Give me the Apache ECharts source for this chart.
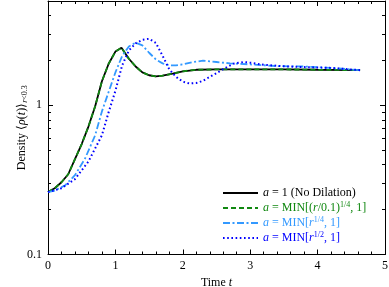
<!DOCTYPE html>
<html><head><meta charset="utf-8">
<script src="https://cdn.jsdelivr.net/npm/echarts@6/dist/echarts.min.js"></script>
<style>html,body{margin:0;padding:0;background:#fff}#c{width:389px;height:287px}</style>
</head><body><div id="c"></div>
<script>
// Time values and densities for each curve
const tNoDil = [0,0.1,0.2,0.3,0.4,0.5,0.6,0.7,0.8,0.9,1.0,1.09,1.2,1.3,1.4,1.5,1.6,1.7,1.85,2.0,2.2,2.5,3.0,3.5,4.0,4.63];
const densNoDil = [0.262,0.278,0.305,0.345,0.435,0.55,0.72,0.985,1.45,1.90,2.29,2.43,2.05,1.82,1.66,1.59,1.56,1.58,1.63,1.69,1.73,1.74,1.74,1.74,1.73,1.72];
const tMinR01 = tNoDil;
const densMinR01 = densNoDil;
const tMinR14 = [0,0.1,0.25,0.4,0.55,0.7,0.8,0.9,1.0,1.1,1.2,1.3,1.4,1.5,1.6,1.7,1.8,1.9,2.0,2.15,2.3,2.5,2.7,3.0,3.4,3.8,4.2,4.63];
const densMinR14 = [0.262,0.268,0.29,0.34,0.44,0.63,0.91,1.23,1.66,2.14,2.48,2.63,2.52,2.25,2.03,1.91,1.85,1.85,1.88,1.95,1.99,1.95,1.91,1.88,1.83,1.82,1.78,1.72];
const tMinR12 = [0,0.2,0.4,0.6,0.8,0.9,1.0,1.1,1.2,1.3,1.4,1.5,1.6,1.7,1.8,1.9,2.0,2.1,2.2,2.3,2.4,2.5,2.6,2.75,2.9,3.0,3.15,3.45,3.85,4.2,4.63];
const densMinR12 = [0.262,0.278,0.32,0.42,0.63,0.90,1.25,1.85,2.33,2.60,2.75,2.79,2.62,2.15,1.74,1.55,1.44,1.40,1.41,1.46,1.55,1.64,1.75,1.90,1.95,1.93,1.88,1.83,1.80,1.78,1.72];

const seriesNames = ['nodil','r01','r14','r12'];
const seriesLabels = [
  '{i|a} = 1 (No Dilation)',
  '{i|a} = MIN[({i|r}/0.1){sup|1/4}, 1]',
  '{i|a} = MIN[{i|r}{sup|1/4}, 1]',
  '{i|a} = MIN[{i|r}{sup|1/2}, 1]'
];
const xTickLabels = [0,1,2,3,4,5];
const yMajor = [0.1, 1];
const yMinor = [0.2,0.3,0.4,0.5,0.6,0.7,0.8,0.9,2,3,4];

const FF = 'Liberation Serif';
const FS = 12;
const colors = ['#000000','#118811','#3399ff','#0000ff'];
const zip = (a,b) => a.map((t,i)=>[t,b[i]]);

const rich = {
  i:{fontFamily:FF,fontStyle:'italic',fontSize:FS},
  sup:{fontFamily:FF,fontSize:8,padding:[0,0,6,0]},
  sub:{fontFamily:FF,fontSize:8,padding:[6,0,0,0]},
  subi:{fontFamily:FF,fontSize:8,fontStyle:'italic',padding:[6,0,0,0]}
};

const chart = echarts.init(document.getElementById('c'));
const baseX = {type:'value',min:0,max:5,interval:1,
  axisLine:{lineStyle:{color:'#000',width:1}},
  axisTick:{inside:true,length:5,lineStyle:{color:'#000',width:1}},
  minorTick:{show:true,splitNumber:5,length:3,lineStyle:{color:'#000',width:1}},
  splitLine:{show:false},minorSplitLine:{show:false}};
const baseY = {type:'log',logBase:10,min:0.1,max:5,
  splitLine:{show:false},minorSplitLine:{show:false}};

chart.setOption({
  animation:false,
  backgroundColor:'#fff',
  grid:{left:48,right:4,top:1,bottom:32.5,containLabel:false,outerBoundsMode:'none'},
  xAxis:[
    Object.assign({},baseX,{position:'bottom',
      axisLabel:{color:'#000',fontFamily:FF,fontSize:FS,margin:5,
        customValues:xTickLabels},
      name:'Time {i|t}',nameLocation:'middle',nameGap:20,
      nameTextStyle:{color:'#000',fontFamily:FF,fontSize:FS,rich:rich}}),
    Object.assign({},baseX,{position:'top',axisLabel:{show:false}})
  ],
  yAxis:[
    Object.assign({},baseY,{position:'left',
      axisLine:{lineStyle:{color:'#000',width:1}},
      axisTick:{inside:true,length:5,customValues:yMajor,lineStyle:{color:'#000'}},
      axisLabel:{customValues:yMajor,color:'#000',fontFamily:FF,fontSize:FS,margin:6,
        formatter:v=>String(Math.round(v*10)/10)},
      name:'Density ⟨{i|ρ}({i|t})⟩{subi|r}{sub|<0.3}',nameLocation:'middle',nameGap:19,nameRotate:90,
      nameMoveOverlap:false,
      nameTextStyle:{color:'#000',fontFamily:FF,fontSize:FS,rich:rich}}),
    Object.assign({},baseY,{position:'left',axisLine:{show:false},
      axisTick:{inside:true,length:3,customValues:yMinor,lineStyle:{color:'#000'}},
      axisLabel:{show:false}}),
    Object.assign({},baseY,{position:'right',
      axisLine:{lineStyle:{color:'#000',width:1}},
      axisTick:{inside:true,length:5,customValues:yMajor,lineStyle:{color:'#000'}},
      axisLabel:{show:false}}),
    Object.assign({},baseY,{position:'right',axisLine:{show:false},
      axisTick:{inside:true,length:3,customValues:yMinor,lineStyle:{color:'#000'}},
      axisLabel:{show:false}})
  ],
  legend:{orient:'vertical',left:222,top:187,padding:0,itemWidth:35,itemHeight:10,itemGap:2,
    itemStyle:{opacity:0},
    textStyle:{fontFamily:FF,fontSize:FS,rich:rich},
    formatter:name=>seriesLabels[seriesNames.indexOf(name)],
    data:seriesNames.map((n,i)=>({name:n,textStyle:{color:colors[i]}}))},
  series:[
    {name:'nodil',type:'line',data:zip(tNoDil,densNoDil),symbol:'none',
      lineStyle:{color:colors[0],width:1.8},itemStyle:{color:colors[0]}},
    {name:'r01',type:'line',data:zip(tMinR01,densMinR01),symbol:'none',
      lineStyle:{color:colors[1],width:1.8,type:[5,3]},itemStyle:{color:colors[1]}},
    {name:'r14',type:'line',data:zip(tMinR14,densMinR14),symbol:'none',
      lineStyle:{color:colors[2],width:1.8,type:[7,2.5,2,2.5]},itemStyle:{color:colors[2]}},
    {name:'r12',type:'line',data:zip(tMinR12,densMinR12),symbol:'none',
      lineStyle:{color:colors[3],width:2,type:[1.6,2.6]},itemStyle:{color:colors[3]}}
  ]
});
</script></body></html>
